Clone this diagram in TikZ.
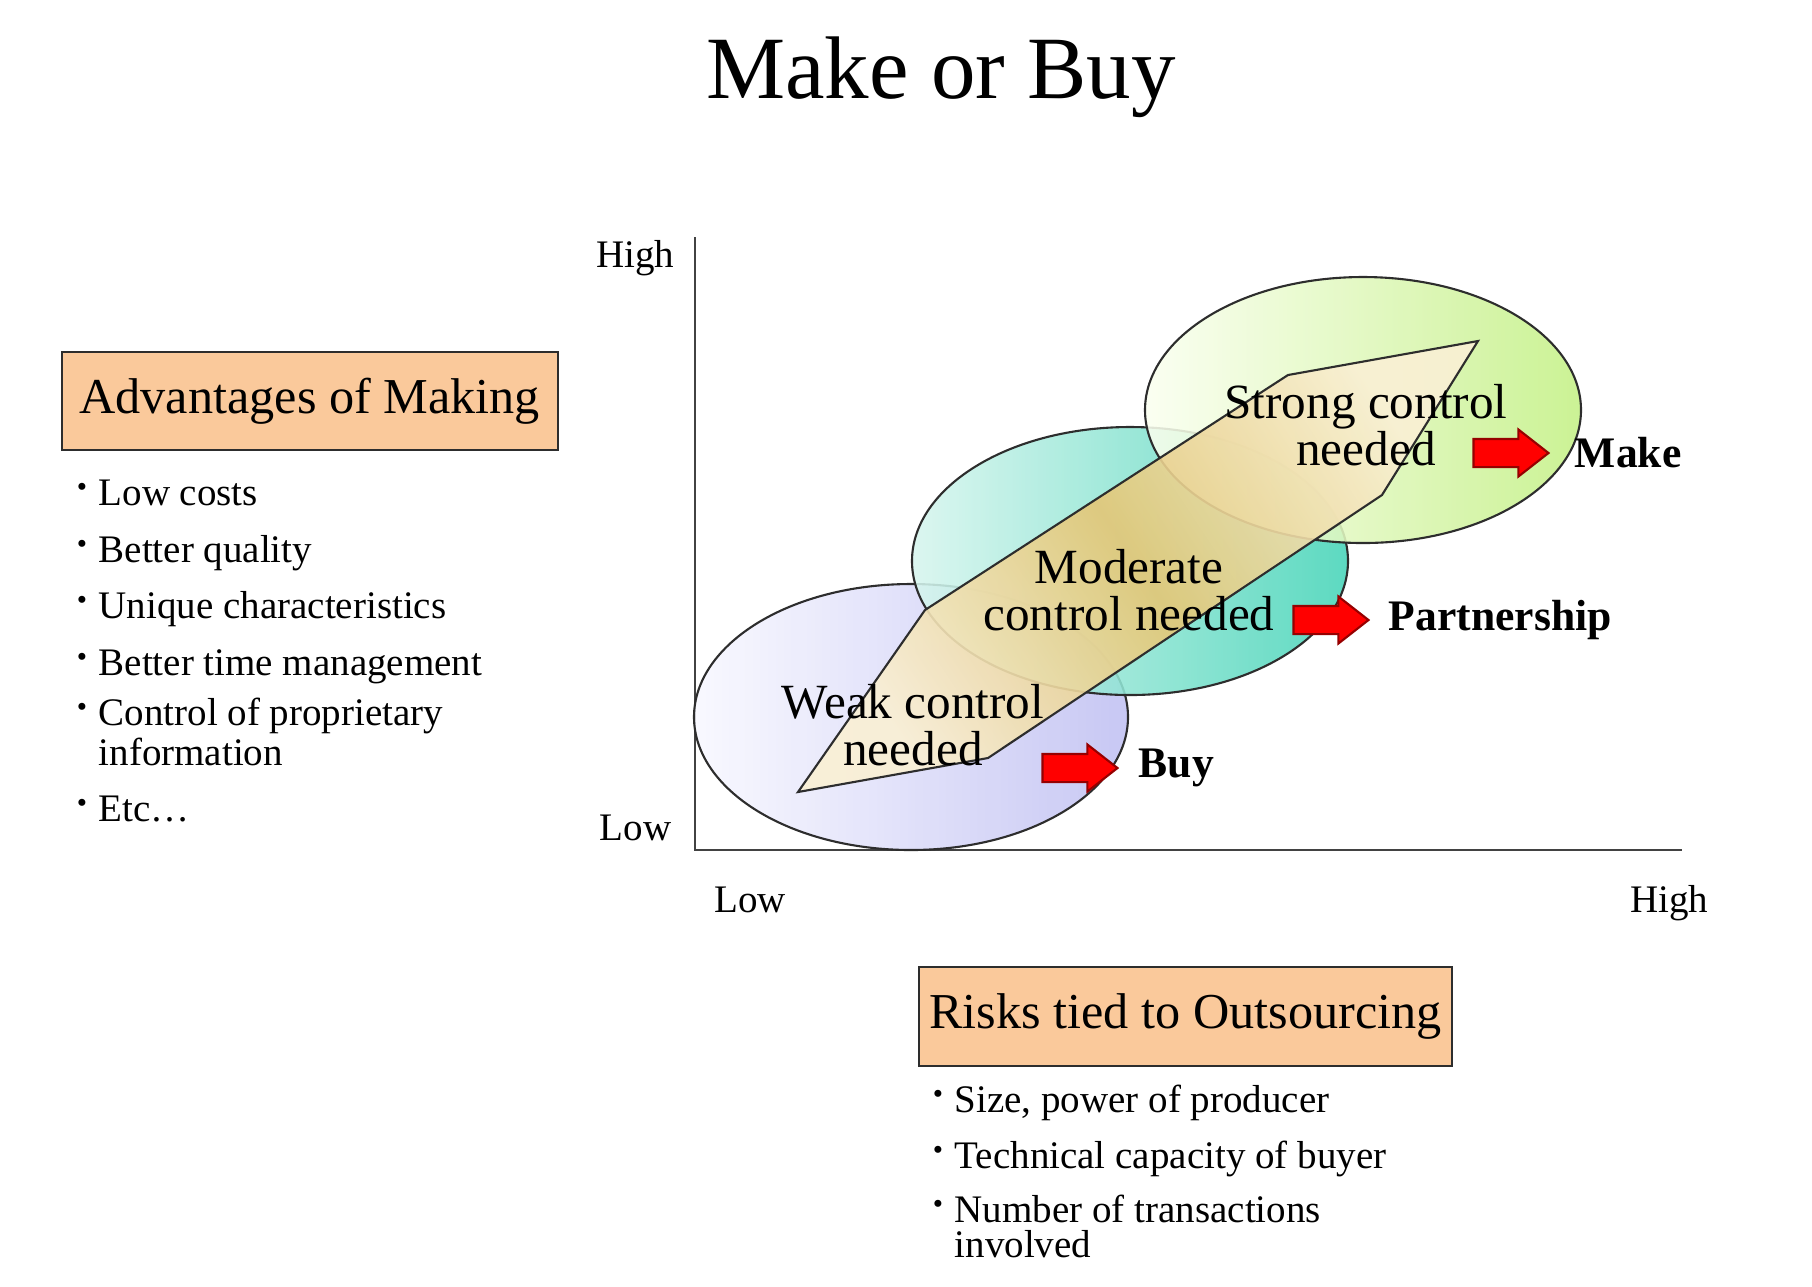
\documentclass[tikz,border=0pt]{standalone}
\usepackage{fontspec}
\setmainfont{Liberation Serif}
\usepackage{graphicx}
\usepackage{tikz}
\usetikzlibrary{positioning, shapes.arrows}

\definecolor{peach}{RGB}{250,201,155}
\definecolor{weakcol}{RGB}{192,192,242}
\definecolor{weaklight}{RGB}{248,248,255}
\definecolor{modcol}{RGB}{70,212,184}
\definecolor{modlight}{RGB}{215,245,238}
\definecolor{strongcol}{RGB}{196,240,134}
\definecolor{stronglight}{RGB}{250,255,240}
\definecolor{bandmid}{RGB}{228,198,118}
\definecolor{bandend}{RGB}{250,240,212}
\definecolor{edgegray}{RGB}{45,45,45}
\definecolor{arrowedge}{RGB}{150,0,0}

\newcommand{\bul}{\llap{\raisebox{0.5ex}{\scalebox{0.75}{\textbullet}}\hspace{0.3em}}}

\begin{document}
\begin{tikzpicture}[x=1cm, y=1cm,
  hdrbox/.style={draw=edgegray, fill=peach, line width=0.6pt, inner sep=0pt,
    font=\fontsize{14.3}{15}\selectfont},
  listitem/.style={anchor=base west, inner sep=0pt, align=left,
    font=\fontsize{11.1}{9.7}\selectfont},
  axislabel/.style={inner sep=0pt, font=\fontsize{11.1}{12}\selectfont},
  ctrltext/.style={inner sep=0pt, align=center, font=\fontsize{14}{13.4}\selectfont},
  decision/.style={inner sep=0pt, font=\bfseries\fontsize{12.4}{13}\selectfont},
  redarrow/.style={single arrow, draw=arrowedge, fill=red, line width=0.6pt,
    minimum height=0.75cm, minimum width=0.45cm, inner xsep=0pt, inner ysep=0.13cm,
    single arrow head extend=0.095cm, single arrow tip angle=76},
  zone/.style={draw=edgegray, line width=0.6pt, fill opacity=0.88}]

\useasboundingbox (0,0) rectangle (18.12,-12.86);

% title
\node[anchor=base, inner sep=0pt, font=\fontsize{25.3}{30}\selectfont] (title) at (9.41,-0.98) {Make or Buy};

% axes
\coordinate (ytop) at (6.95,-2.37);
\coordinate (O) at (6.95,-8.50);
\coordinate (xend) at (16.82,-8.50);
\draw[edgegray!90, line width=0.6pt] (ytop) -- (O) -- (xend);

\node[axislabel, anchor=base east] (yhigh) at (6.75,-2.67) {High};
\node[axislabel, anchor=base east] (ylow) at (6.72,-8.40) {Low};
\node[axislabel, anchor=base] (xlow) at (7.50,-9.12) {Low};
\node[axislabel, anchor=base] (xhigh) at (16.69,-9.12) {High};

% the three zones
\draw[zone, left color=weaklight, right color=weakcol] (9.11,-7.17) ellipse [x radius=2.17, y radius=1.33];
\draw[zone, left color=modlight, right color=modcol] (11.30,-5.61) ellipse [x radius=2.18, y radius=1.34];
\draw[zone, left color=stronglight, right color=strongcol] (13.63,-4.10) ellipse [x radius=2.18, y radius=1.33];

% band through the zones
\coordinate (b1) at (7.98,-7.92); % low tip
\coordinate (b2) at (9.88,-7.58);
\coordinate (b3) at (13.82,-4.95);
\coordinate (b4) at (14.78,-3.41); % high tip
\coordinate (b5) at (12.88,-3.75);
\coordinate (b6) at (9.25,-6.10);
\draw[edgegray, line width=0.6pt, fill opacity=0.9, left color=bandend, right color=bandend,
      middle color=bandmid, shading angle=123.5]
     (b1) -- (b2) -- (b3) -- (b4) -- (b5) -- (b6) -- cycle;

\node[ctrltext] (strong) at (13.66,-4.25) {Strong control\\needed};
\node[ctrltext] (moderate) at (11.29,-5.90) {Moderate\\control needed};
\node[ctrltext] (weak) at (9.13,-7.25) {Weak control\\needed};

% decisions
\node[redarrow] (makearr) at (15.02,-4.53) {};
\node[redarrow] (partarr) at (13.22,-6.20) {};
\node[redarrow] (buyarr) at (10.71,-7.68) {};
\node[decision, anchor=west, right=0.24cm of makearr] (make) {Make};
\node[decision, anchor=west, right=0.18cm of partarr] (partner) {Partnership};
\node[decision, anchor=west, right=0.19cm of buyarr] (buy) {Buy};

% left list
\node[hdrbox, minimum width=4.96cm, minimum height=0.98cm] (adv) at (3.096,-4.01) {Advantages of Making};
\node[listitem] (adv1) at (0.98,-5.05) {\bul Low costs};
\node[listitem] (adv2) at (0.98,-5.62) {\bul Better quality};
\node[listitem] (adv3) at (0.98,-6.18) {\bul Unique characteristics};
\node[listitem] (adv4) at (0.98,-6.75) {\bul Better time management};
\node[listitem] (adv5) at (0.98,-7.65) {\bul Control of proprietary\\information};
\node[listitem] (adv6) at (0.98,-8.21) {\bul Etc\ldots};

% right list
\node[hdrbox, minimum width=5.33cm, minimum height=0.99cm] (risk) at (11.855,-10.165) {Risks tied to Outsourcing};
\node[listitem] (risk1) at (9.54,-11.12) {\bul Size, power of producer};
\node[listitem] (risk2) at (9.54,-11.68) {\bul Technical capacity of buyer};
\node[listitem] (risk3) at (9.54,-12.57) {\bul Number of transactions\\involved};
\end{tikzpicture}
\end{document}
